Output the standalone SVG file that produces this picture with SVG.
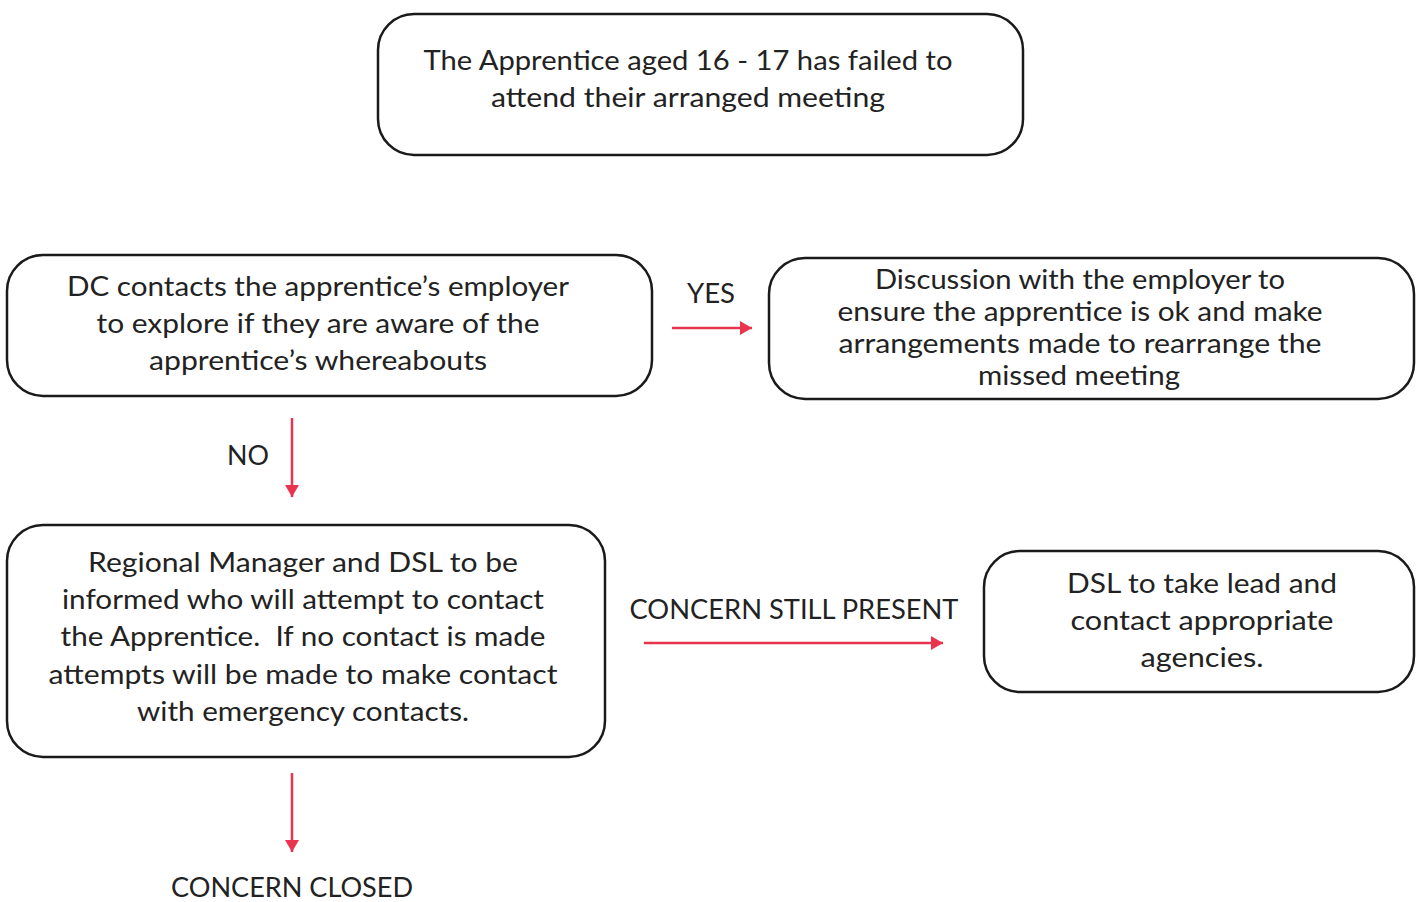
<svg xmlns="http://www.w3.org/2000/svg" width="1422" height="902" viewBox="0 0 1422 902">
<style>
.box{fill:#fff;stroke:#1a1a1a;stroke-width:2.5}
.t{font-family:Lato,"Open Sans","Liberation Sans",sans-serif;font-size:27px;fill:#222;text-anchor:middle}
.s{font-size:26px}
.c{stroke:#e8344e;stroke-width:2.5;fill:none}
</style>
<defs>
<marker id="ah" viewBox="0 0 12 14" refX="12" refY="7" markerWidth="12" markerHeight="14" markerUnits="userSpaceOnUse" orient="auto">
<path d="M0,0 L12,7 L0,14 z" fill="#e8344e"/>
</marker>
</defs>
<rect width="1422" height="902" fill="#fff"/>
<g id="n1">
<rect class="box" x="378" y="14" width="645" height="141" rx="36"/>
<text class="t" x="688" y="70" textLength="529" lengthAdjust="spacingAndGlyphs">The Apprentice aged 16 - 17 has failed to</text>
<text class="t" x="688" y="107" textLength="394" lengthAdjust="spacingAndGlyphs">attend their arranged meeting</text>
</g>
<g id="n2">
<rect class="box" x="7" y="255" width="645" height="141" rx="36"/>
<text class="t" x="318" y="296" textLength="502" lengthAdjust="spacingAndGlyphs">DC contacts the apprentice’s employer</text>
<text class="t" x="318" y="333" textLength="443" lengthAdjust="spacingAndGlyphs">to explore if they are aware of the</text>
<text class="t" x="318" y="370" textLength="338" lengthAdjust="spacingAndGlyphs">apprentice’s whereabouts</text>
</g>
<g id="n3">
<rect class="box" x="769" y="258" width="645" height="141" rx="36"/>
<text class="t s" x="1080" y="289" textLength="410" lengthAdjust="spacingAndGlyphs">Discussion with the employer to</text>
<text class="t s" x="1080" y="321" textLength="485" lengthAdjust="spacingAndGlyphs">ensure the apprentice is ok and make</text>
<text class="t s" x="1080" y="353" textLength="483" lengthAdjust="spacingAndGlyphs">arrangements made to rearrange the</text>
<text class="t s" x="1079" y="385" textLength="202" lengthAdjust="spacingAndGlyphs">missed meeting</text>
</g>
<g id="n4">
<rect class="box" x="7" y="525" width="598" height="232" rx="36"/>
<text class="t" x="303" y="572" textLength="430" lengthAdjust="spacingAndGlyphs">Regional Manager and DSL to be</text>
<text class="t" x="303" y="609" textLength="482" lengthAdjust="spacingAndGlyphs">informed who will attempt to contact</text>
<text class="t" x="303" y="646" textLength="485" lengthAdjust="spacingAndGlyphs" xml:space="preserve">the Apprentice.  If no contact is made</text>
<text class="t" x="303" y="684" textLength="509" lengthAdjust="spacingAndGlyphs">attempts will be made to make contact</text>
<text class="t" x="303" y="721" textLength="332" lengthAdjust="spacingAndGlyphs">with emergency contacts.</text>
</g>
<g id="n5">
<rect class="box" x="984" y="551" width="430" height="141" rx="36"/>
<text class="t" x="1202" y="593" textLength="270" lengthAdjust="spacingAndGlyphs">DSL to take lead and</text>
<text class="t" x="1202" y="630" textLength="263" lengthAdjust="spacingAndGlyphs">contact appropriate</text>
<text class="t" x="1202" y="667" textLength="123" lengthAdjust="spacingAndGlyphs">agencies.</text>
</g>
<g id="connectors">
<path class="c" d="M672,328 H752" marker-end="url(#ah)"/>
<path class="c" d="M292,418 V497" marker-end="url(#ah)"/>
<path class="c" d="M644,643 H943" marker-end="url(#ah)"/>
<path class="c" d="M292,773 V852" marker-end="url(#ah)"/>
<text class="t" x="711" y="303" textLength="48" lengthAdjust="spacingAndGlyphs">YES</text>
<text class="t" x="248" y="465" textLength="42" lengthAdjust="spacingAndGlyphs">NO</text>
<text class="t" x="794" y="619" textLength="329" lengthAdjust="spacingAndGlyphs">CONCERN STILL PRESENT</text>
<text class="t" x="292" y="897" textLength="242" lengthAdjust="spacingAndGlyphs">CONCERN CLOSED</text>
</g>
</svg>
